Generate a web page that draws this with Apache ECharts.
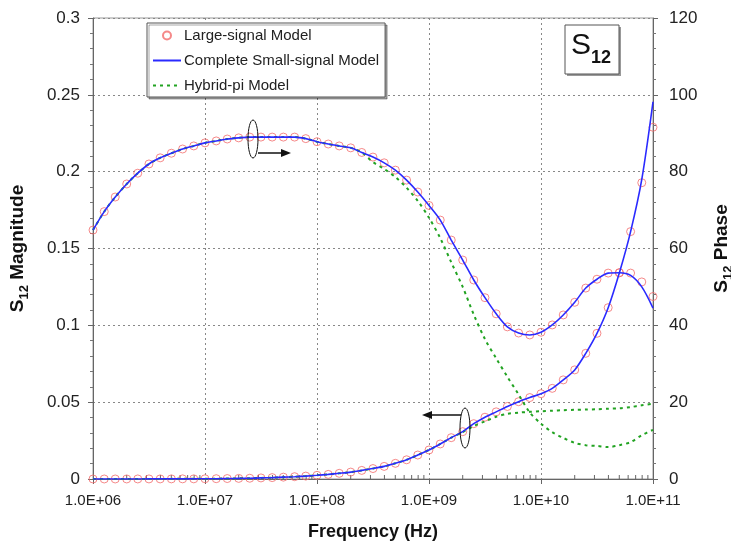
<!DOCTYPE html>
<html>
<head>
<meta charset="utf-8">
<script src="https://cdn.jsdelivr.net/npm/echarts@6/dist/echarts.min.js"></script>
<style>
html,body{margin:0;padding:0;background:#fff;}
#chart{width:731px;height:548px;}
</style>
</head>
<body>
<div id="chart"></div>
<script>
// Frequencies (Hz), 10 points per decade
const freq = [
  1.00e6,1.26e6,1.58e6,2.00e6,2.51e6,3.16e6,3.98e6,5.01e6,6.31e6,7.94e6,
  1.00e7,1.26e7,1.58e7,2.00e7,2.51e7,3.16e7,3.98e7,5.01e7,6.31e7,7.94e7,
  1.00e8,1.26e8,1.58e8,2.00e8,2.51e8,3.16e8,3.98e8,5.01e8,6.31e8,7.94e8,
  1.00e9,1.26e9,1.58e9,2.00e9,2.51e9,3.16e9,3.98e9,5.01e9,6.31e9,7.94e9,
  1.00e10,1.26e10,1.58e10,2.00e10,2.51e10,3.16e10,3.98e10,5.01e10,6.31e10,7.94e10,
  1.00e11
];
// S12 magnitude (left axis)
const magLarge = [
  0.00001,0.00002,0.00002,0.00003,0.00004,0.00005,0.00006,0.00008,0.0001,0.0001,
  0.00015,0.0002,0.0003,0.0004,0.0005,0.0007,0.0009,0.0012,0.0015,0.0019,
  0.0024,0.0030,0.0037,0.0045,0.0056,0.0068,0.0082,0.0102,0.0125,0.0156,
  0.0189,0.0228,0.0269,0.0308,0.0360,0.0402,0.0437,0.0472,0.0503,0.0530,
  0.0555,0.0590,0.0645,0.0710,0.0818,0.0948,0.1115,0.1342,0.1610,0.1928,
  0.2289
];
const magComplete = [
  0.00001,0.00002,0.00002,0.00003,0.00004,0.00005,0.00006,0.00008,0.0001,0.0001,
  0.00015,0.0002,0.0003,0.0004,0.0005,0.0007,0.0009,0.0012,0.0015,0.0019,
  0.0024,0.0030,0.0037,0.0045,0.0056,0.0068,0.0082,0.0102,0.0125,0.0156,
  0.0189,0.0228,0.0269,0.0308,0.0360,0.0402,0.0437,0.0472,0.0503,0.0530,
  0.0555,0.0590,0.0645,0.0710,0.0818,0.0948,0.1115,0.1342,0.1610,0.1950,
  0.2455
];
const magHybrid = [
  0.00001,0.00002,0.00002,0.00003,0.00004,0.00005,0.00006,0.00008,0.0001,0.0001,
  0.00015,0.0002,0.0003,0.0004,0.0005,0.0007,0.0009,0.0012,0.0015,0.0019,
  0.0024,0.0030,0.0037,0.0045,0.0056,0.0068,0.0082,0.0102,0.0125,0.0156,
  0.0189,0.0228,0.0269,0.0305,0.0345,0.0375,0.0405,0.0424,0.0432,0.0437,
  0.0441,0.0444,0.0448,0.0450,0.0452,0.0454,0.0457,0.0460,0.0468,0.0480,
  0.0490
];
// S12 phase (right axis, degrees)
const phaseLarge = [
  64.8,69.6,73.4,76.8,79.6,82.0,83.6,84.8,85.9,86.7,
  87.5,88.0,88.5,88.8,89.0,89.0,89.0,89.0,89.0,88.6,
  87.8,87.2,86.7,86.2,85.0,83.8,82.3,80.4,77.8,74.7,
  71.2,67.4,62.2,57.0,51.8,47.2,43.0,39.6,38.0,37.5,
  38.2,40.1,42.7,46.0,49.7,52.0,53.6,53.7,53.6,51.3,
  47.5
];
const phaseComplete = [
  64.8,69.6,73.4,76.8,79.6,82.0,83.6,84.8,85.9,86.7,
  87.5,88.0,88.5,88.8,89.0,89.0,89.0,89.0,89.0,88.6,
  87.8,87.2,86.7,86.2,85.0,83.8,82.3,80.4,77.8,74.7,
  71.2,67.4,62.2,57.0,51.8,47.2,43.0,39.6,38.0,37.5,
  38.2,40.1,42.7,46.0,49.7,52.0,53.6,53.7,53.0,50.0,
  44.5
];
const phaseHybrid = [
  64.8,69.6,73.4,76.8,79.6,82.0,83.6,84.8,85.9,86.7,
  87.5,88.0,88.5,88.8,89.0,89.0,89.0,89.0,89.0,88.6,
  87.8,87.2,86.7,86.2,85.0,82.5,80.7,78.6,75.8,72.4,
  68.0,62.7,56.4,50.0,42.8,36.4,31.4,26.6,22.0,17.3,
  14.4,12.2,10.7,9.4,8.8,8.6,8.3,8.8,9.6,11.4,
  12.8
];
// minor tick positions on the log frequency axis (2..9 per decade)
const minorMantissas = [2,3,4,5,6,7,8,9];
const decades = [1e6,1e7,1e8,1e9,1e10];
const minorFreqs = [];
decades.forEach(d => minorMantissas.forEach(m => minorFreqs.push([m*d, 0])));

const seriesNames = ['Large-signal Model','Complete Small-signal Model','Hybrid-pi Model'];
const leftTicks = {min:0, max:0.3, interval:0.05};
const rightTicks = {min:0, max:120, interval:20};

function pairs(ys){ return freq.map((f,i)=>[f, ys[i]]); }

const FONT = 'Liberation Sans, Arial, sans-serif';
const chart = echarts.init(document.getElementById('chart'), null, {renderer:'canvas'});

const scatterStyle = {
  type:'scatter', symbol:'circle', symbolSize:8,
  itemStyle:{color:'rgba(255,255,255,0)', borderColor:'#f26b6b', borderWidth:1},
  z:2, silent:true
};
const blueStyle = {type:'line', smooth:0.3, symbol:'none', lineStyle:{color:'#2a2aff', width:1.6}, itemStyle:{color:'#2a2aff'}, z:4};
const greenStyle = {type:'line', smooth:0.3, symbol:'none', lineStyle:{color:'#22a322', width:2, type:[3,4]}, itemStyle:{color:'#22a322'}, z:3};

const nameRich = {
  a:{fontSize:19, fontWeight:'bold', color:'#111', fontFamily:FONT, lineHeight:24, verticalAlign:'bottom'},
  s:{fontSize:13, fontWeight:'bold', color:'#111', fontFamily:FONT, lineHeight:24, verticalAlign:'bottom', padding:[0,0,-4,0]}
};

chart.setOption({
  animation:false,
  textStyle:{fontFamily:FONT},
  grid:{left:93, right:78, top:18, bottom:69, show:true, borderColor:'#999', borderWidth:1,
        containLabel:false, outerBoundsMode:'none'},
  legend:{
    data:[
      {name:seriesNames[0]},
      {name:seriesNames[1], itemStyle:{opacity:0}},
      {name:seriesNames[2], itemStyle:{opacity:0}}
    ],
    orient:'vertical', left:147, top:23,
    itemWidth:28, itemHeight:8, itemGap:10,
    padding:[5,6,4,5],
    backgroundColor:'#fff', borderColor:'#555', borderWidth:1,
    shadowColor:'rgba(0,0,0,0.35)', shadowOffsetX:2, shadowOffsetY:2, shadowBlur:0,
    textStyle:{fontSize:15, color:'#222', fontFamily:FONT, padding:[0,0,0,-2]}
  },
  xAxis:{
    type:'log', logBase:10, min:1e6, max:1e11,
    name:'Frequency (Hz)', nameLocation:'middle', nameGap:44,
    nameTextStyle:{fontSize:18, fontWeight:'bold', color:'#111', fontFamily:FONT},
    axisLine:{show:true, onZero:false, lineStyle:{color:'#666'}},
    axisTick:{show:true, length:5, lineStyle:{color:'#666'}},
    axisLabel:{fontSize:15, color:'#222', margin:14, fontFamily:FONT,
      formatter:v => { const e = Math.round(Math.log10(v)); return '1.0E+' + (e<10?'0'+e:e); }},
    splitLine:{show:true, lineStyle:{color:'#888', type:[2,3]}}
  },
  yAxis:[{
    type:'value', position:'left', min:leftTicks.min, max:leftTicks.max, interval:leftTicks.interval,
    name:'{a|S}{s|12}{a| Magnitude}', nameLocation:'middle', nameGap:66, nameRotate:90,
    nameTextStyle:{rich:nameRich},
    axisLine:{show:true, lineStyle:{color:'#666'}},
    axisTick:{show:true, length:5, lineStyle:{color:'#666'}},
    minorTick:{show:true, splitNumber:5, length:3, lineStyle:{color:'#777'}},
    axisLabel:{fontSize:17, color:'#222', margin:13, fontFamily:FONT},
    splitLine:{show:true, lineStyle:{color:'#888', type:[2,3]}}
  },{
    type:'value', position:'right', min:rightTicks.min, max:rightTicks.max, interval:rightTicks.interval,
    name:'{a|S}{s|12}{a| Phase}', nameLocation:'middle', nameGap:54, nameRotate:90,
    nameTextStyle:{rich:nameRich},
    axisLine:{show:true, lineStyle:{color:'#666'}},
    axisTick:{show:true, length:5, lineStyle:{color:'#666'}},
    minorTick:{show:true, splitNumber:5, length:3, lineStyle:{color:'#777'}},
    axisLabel:{fontSize:17, color:'#222', margin:16, fontFamily:FONT},
    splitLine:{show:false}
  }],
  series:[
    Object.assign({name:seriesNames[0], yAxisIndex:0, data:pairs(magLarge)}, scatterStyle),
    Object.assign({name:seriesNames[0], yAxisIndex:1, data:pairs(phaseLarge)}, scatterStyle),
    Object.assign({name:seriesNames[1], yAxisIndex:0, data:pairs(magComplete)}, blueStyle),
    Object.assign({name:seriesNames[1], yAxisIndex:1, data:pairs(phaseComplete)}, blueStyle),
    Object.assign({name:seriesNames[2], yAxisIndex:0, data:pairs(magHybrid)}, greenStyle),
    Object.assign({name:seriesNames[2], yAxisIndex:1, data:pairs(phaseHybrid)}, greenStyle),
    {
      name:'minorTicks', type:'custom', yAxisIndex:0, data:minorFreqs, silent:true, clip:false, z:1,
      renderItem:(params, api) => {
        const p = api.coord([api.value(0), 0]);
        return {type:'line', shape:{x1:p[0], y1:p[1], x2:p[0], y2:p[1]-4}, style:{stroke:'#666', lineWidth:1}};
      }
    }
  ],
  graphic:[
    // S12 label box
    {type:'rect', shape:{x:567, y:27, width:54, height:49}, style:{fill:'#999'}, z:10},
    {type:'rect', shape:{x:565, y:25, width:54, height:49}, style:{fill:'#fff', stroke:'#555', lineWidth:1}, z:11},
    {type:'text', left:571, top:31, z:12, style:{
      text:'{b|S}{c|12}', rich:{
        b:{fontSize:30, fontFamily:FONT, fill:'#111', lineHeight:36, verticalAlign:'bottom'},
        c:{fontSize:18, fontWeight:'bold', fontFamily:FONT, fill:'#111', lineHeight:36, verticalAlign:'bottom', padding:[0,0,-6,0]}
      }}},
    // phase annotation: ellipse + arrow to the right
    {type:'ellipse', shape:{cx:253, cy:139, rx:5, ry:19}, style:{fill:'none', stroke:'#111', lineWidth:1}, z:10},
    {type:'line', shape:{x1:258, y1:153, x2:283, y2:153}, style:{stroke:'#111', lineWidth:1.5}, z:10},
    {type:'polygon', shape:{points:[[281,149],[291,153],[281,157]]}, style:{fill:'#111'}, z:10},
    // magnitude annotation: ellipse + arrow to the left
    {type:'ellipse', shape:{cx:465, cy:428, rx:5, ry:20}, style:{fill:'none', stroke:'#111', lineWidth:1}, z:10},
    {type:'line', shape:{x1:430, y1:415, x2:461, y2:415}, style:{stroke:'#111', lineWidth:1.5}, z:10},
    {type:'polygon', shape:{points:[[432,411],[422,415],[432,419]]}, style:{fill:'#111'}, z:10}
  ]
});
</script>
</body>
</html>
